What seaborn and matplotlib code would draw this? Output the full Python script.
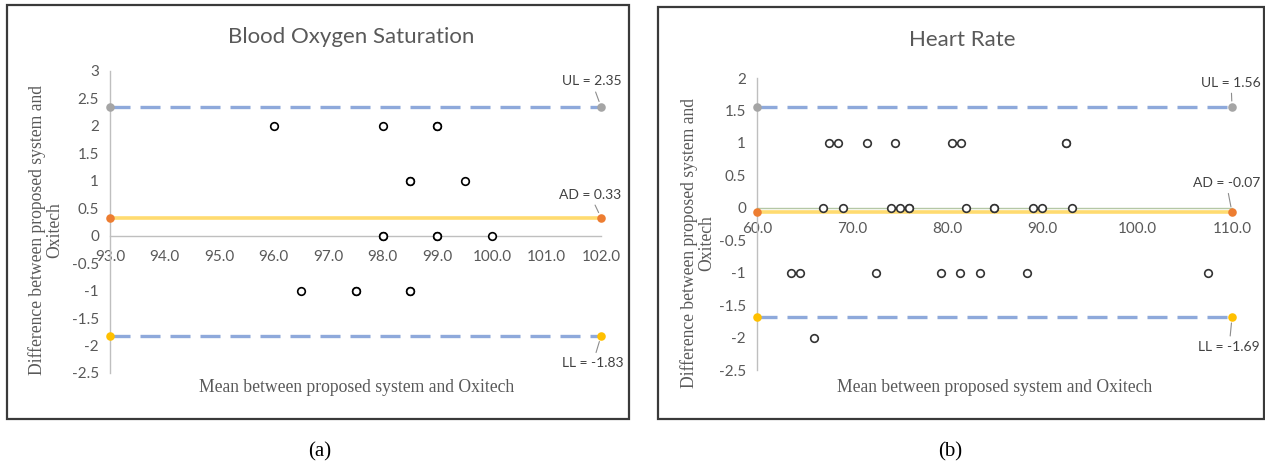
import matplotlib
matplotlib.use("Agg")
import matplotlib.pyplot as plt
from matplotlib.patches import Rectangle
import seaborn as sns
import pandas as pd

# Blood oxygen saturation (a)
spo2_mean = [96.0, 98.0, 99.0, 99.0, 98.5, 98.5, 99.5, 98.0, 98.0, 99.0, 99.0, 100.0,
             96.5, 97.5, 97.5, 98.5, 98.5]
spo2_diff = [2, 2, 2, 2, 1, 1, 1, 0, 0, 0, 0, 0, -1, -1, -1, -1, -1]
spo2_limits = {"UL": 2.35, "AD": 0.33, "LL": -1.83}
spo2_xticks = [93.0, 94.0, 95.0, 96.0, 97.0, 98.0, 99.0, 100.0, 101.0, 102.0]
spo2_yticks = [3, 2.5, 2, 1.5, 1, 0.5, 0, -0.5, -1, -1.5, -2, -2.5]

# Heart rate (b)
hr_mean = [67.6, 68.5, 71.6, 74.5, 80.5, 81.5, 92.5, 92.5,
           66.9, 69.1, 74.1, 75.1, 76.0, 76.0, 82.0, 84.9, 84.9, 89.1, 90.0, 93.2,
           63.6, 64.5, 72.5, 79.4, 81.4, 83.5, 88.4, 107.5,
           66.0]
hr_diff = [1, 1, 1, 1, 1, 1, 1, 1,
           0, 0, 0, 0, 0, 0, 0, 0, 0, 0, 0, 0,
           -1, -1, -1, -1, -1, -1, -1, -1,
           -2]
hr_limits = {"UL": 1.56, "AD": -0.07, "LL": -1.69}
hr_xticks = [60.0, 70.0, 80.0, 90.0, 100.0, 110.0]
hr_yticks = [2, 1.5, 1, 0.5, 0, -0.5, -1, -1.5, -2, -2.5]

sns.set_theme(style="white")
plt.rcParams["font.family"] = ["Lato", "DejaVu Sans"]

W, H = 1265, 470
fig = plt.figure(figsize=(W / 100, H / 100), dpi=100)

grey_txt = "#595959"
dash_col = "#8EA9DB"
ad_col = "#FFDB70"
end_cols = {"UL": "#A5A5A5", "AD": "#ED7D31", "LL": "#FFC000"}
serif = ["Liberation Serif", "DejaVu Serif"]


def box(x0, y0, x1, y1):
    return [x0 / W, 1 - y1 / H, (x1 - x0) / W, (y1 - y0) / H]


def panel(rect, xs, ys, limits, xticks, yticks, title, title_xy, ylab_xy, xlab_xy,
          frame, caption, cap_xy, label_pos, zero_col, pt_edge):
    fig.patches.append(Rectangle((frame[0] / W, 1 - frame[3] / H),
                                 (frame[2] - frame[0]) / W, (frame[3] - frame[1]) / H,
                                 transform=fig.transFigure, fill=False,
                                 edgecolor="#3a3a3a", lw=1.6))
    ax = fig.add_axes(box(*rect))
    ax.set_facecolor("none")
    x0, x1 = xticks[0], xticks[-1]
    ax.set_xlim(x0, x1)
    ax.set_ylim(yticks[-1], yticks[0])

    # limit lines
    for key in ["UL", "LL"]:
        ax.plot([x0, x1], [limits[key]] * 2, color=dash_col, lw=2.4,
                dashes=(6, 3), zorder=2, solid_capstyle="butt")
    ax.plot([x0, x1], [limits["AD"]] * 2, color=ad_col, lw=2.6, zorder=2)
    for key, val in limits.items():
        ax.scatter([x0, x1], [val, val], s=38, color=end_cols[key], zorder=4,
                   clip_on=False, linewidths=0)

    df = pd.DataFrame({"mean": xs, "diff": ys})
    sns.scatterplot(data=df, x="mean", y="diff", ax=ax, marker="o", s=30,
                    facecolor="white", edgecolor=pt_edge, linewidth=1.2, zorder=5)

    # annotations
    for key, (tx, ty) in label_pos.items():
        ax.annotate(f"{key} = {limits[key]:.2f}", xy=(x1, limits[key]), xytext=(tx, ty),
                    textcoords="data", ha="center", va="center", fontsize=10,
                    color="#404040", annotation_clip=False,
                    arrowprops=dict(arrowstyle="-", color="#8c8c8c", lw=0.8,
                                    shrinkA=1, shrinkB=4))

    for s in ["top", "right"]:
        ax.spines[s].set_visible(False)
    ax.spines["left"].set_color("#BFBFBF")
    ax.spines["left"].set_linewidth(1.0)
    ax.spines["bottom"].set_position(("data", 0))
    ax.spines["bottom"].set_color(zero_col)
    ax.spines["bottom"].set_linewidth(1.0)
    ax.set_xticks(xticks)
    ax.set_xticklabels([f"{v:.1f}" for v in xticks])
    ax.set_yticks(yticks)
    ax.set_yticklabels([f"{v:g}" for v in yticks])
    ax.tick_params(axis="both", length=0, labelsize=11, colors=grey_txt)
    ax.tick_params(axis="y", pad=8)
    ax.tick_params(axis="x", pad=10)
    ax.set_xlabel("")
    ax.set_ylabel("")

    fig.text(title_xy[0] / W, 1 - title_xy[1] / H, title, ha="center", va="center",
             fontsize=16, color=grey_txt)
    fig.text(ylab_xy[0] / W, 1 - ylab_xy[1] / H,
             "Difference between proposed system and\nOxitech",
             rotation=90, ha="center", va="center", multialignment="center",
             fontsize=12.7, color=grey_txt, family=serif, linespacing=1.0)
    fig.text(xlab_xy[0] / W, 1 - xlab_xy[1] / H, "Mean between proposed system and Oxitech",
             ha="center", va="center", fontsize=12.7, color=grey_txt, family=serif)
    fig.text(cap_xy[0] / W, 1 - cap_xy[1] / H, caption, ha="center", va="center",
             fontsize=15, color="black", family=serif)
    return ax


panel((110, 71, 601, 373), spo2_mean, spo2_diff, spo2_limits, spo2_xticks, spo2_yticks,
      "Blood Oxygen Saturation", (351, 37), (46, 230), (357, 387),
      (7, 5, 629, 419), "(a)", (320, 452),
      {"UL": (101.83, 2.81), "AD": (101.8, 0.75), "LL": (101.85, -2.32)},
      "#BFBFBF", "black")

panel((757, 78, 1232, 370), hr_mean, hr_diff, hr_limits, hr_xticks, hr_yticks,
      "Heart Rate", (962, 40), (698, 243), (995, 387),
      (658, 7, 1264, 419), "(b)", (950, 452),
      {"UL": (109.9, 1.93), "AD": (109.4, 0.385), "LL": (109.7, -2.14)},
      "#B5C7A5", "#333333")

fig.savefig("out.png", dpi=100)
